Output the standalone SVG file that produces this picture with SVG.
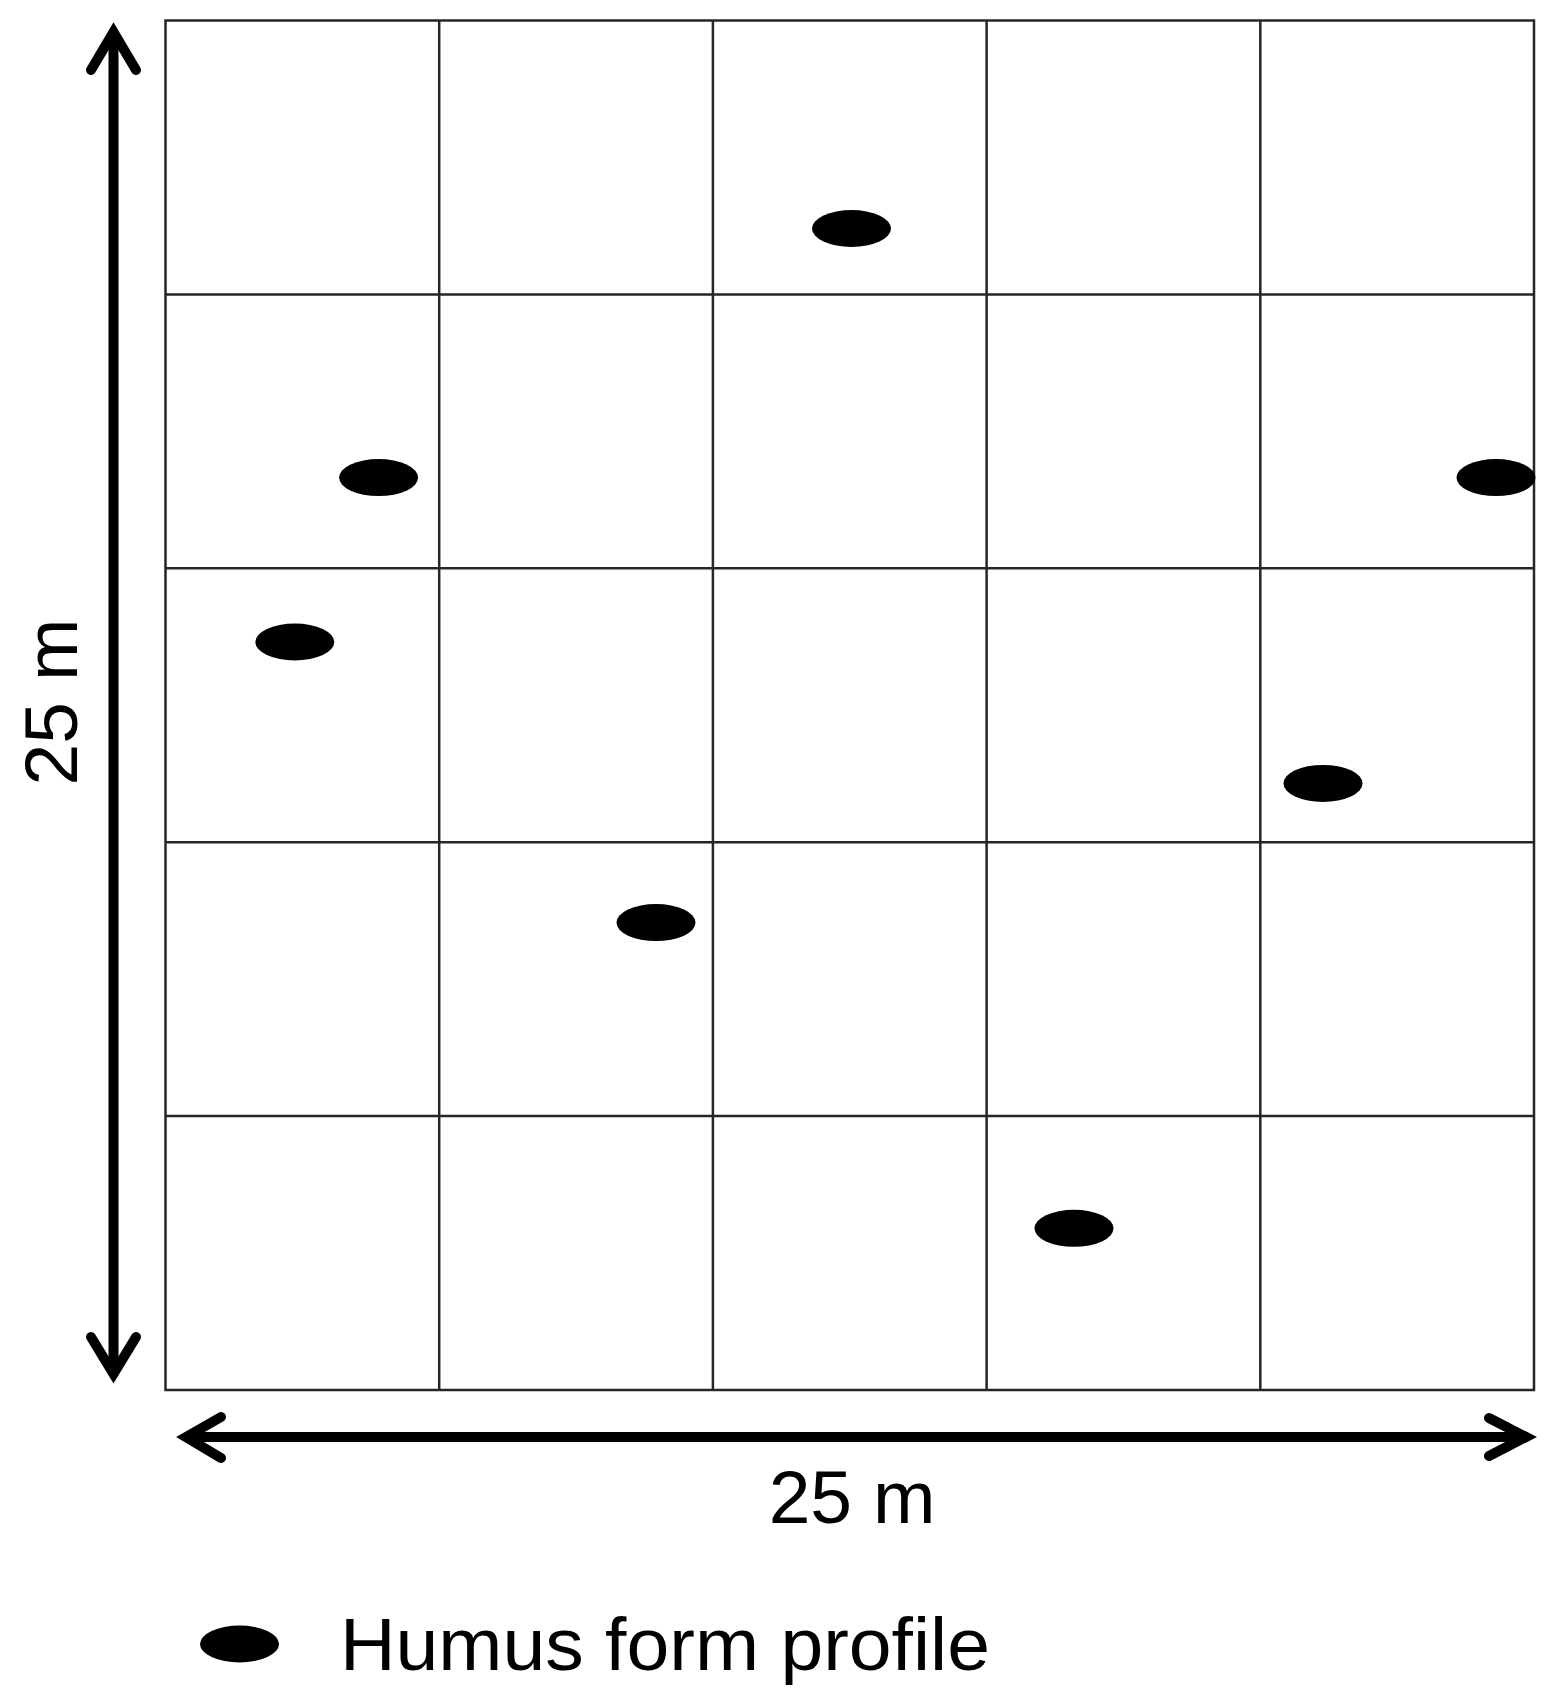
<svg xmlns="http://www.w3.org/2000/svg" width="1558" height="1706" viewBox="0 0 1558 1706">
<style>
.grid{fill:none;stroke:#262626;stroke-width:2.5}
.dim{fill:none;stroke:#000;stroke-width:10;stroke-linecap:round;stroke-linejoin:miter}
.pt{fill:#000}
.lbl{font-family:"Liberation Sans",Arial,sans-serif;font-size:75px;fill:#000}
</style>
<rect width="1558" height="1706" fill="#fff"/>
<g id="grid">
<rect class="grid" x="165.5" y="20.5" width="1368.5" height="1369.5"/>
<path class="grid" d="M439.2 20.5V1390M712.9 20.5V1390M986.6 20.5V1390M1260.3 20.5V1390M165.5 294.4H1534M165.5 568.3H1534M165.5 842.2H1534M165.5 1116.1H1534"/>
</g>
<g id="connectors">
<line class="dim" x1="113.5" y1="34" x2="113.5" y2="1372"/>
<polyline class="dim" points="91,70 113.5,32 136,70"/>
<polyline class="dim" points="91,1337 113.5,1374 136,1337"/>
<line class="dim" x1="188" y1="1437" x2="1524" y2="1437"/>
<polyline class="dim" points="221,1417 186,1437 221,1458"/>
<polyline class="dim" points="1489,1418 1526,1437 1489,1456"/>
</g>
<g id="profiles">
<ellipse id="p1" class="pt" cx="851.5" cy="228.5" rx="39.5" ry="18.5"/>
<ellipse id="p2" class="pt" cx="378.6" cy="477.6" rx="39.5" ry="18.5"/>
<ellipse id="p3" class="pt" cx="1496" cy="477.6" rx="39.5" ry="18.5"/>
<ellipse id="p4" class="pt" cx="294.8" cy="642" rx="39.5" ry="18.5"/>
<ellipse id="p5" class="pt" cx="1323" cy="783.4" rx="39.5" ry="18.5"/>
<ellipse id="p6" class="pt" cx="656" cy="922.6" rx="39.5" ry="18.5"/>
<ellipse id="p7" class="pt" cx="1074" cy="1228.3" rx="39.5" ry="18.5"/>
</g>
<g id="labels">
<text class="lbl" x="852" y="1523" text-anchor="middle">25 m</text>
<text class="lbl" transform="translate(77,702) rotate(-90)" text-anchor="middle">25 m</text>
</g>
<g id="legend">
<ellipse class="pt" cx="239.5" cy="1644" rx="39.5" ry="18.5"/>
<text class="lbl" x="340" y="1670" textLength="650" lengthAdjust="spacingAndGlyphs">Humus form profile</text>
</g>
</svg>
